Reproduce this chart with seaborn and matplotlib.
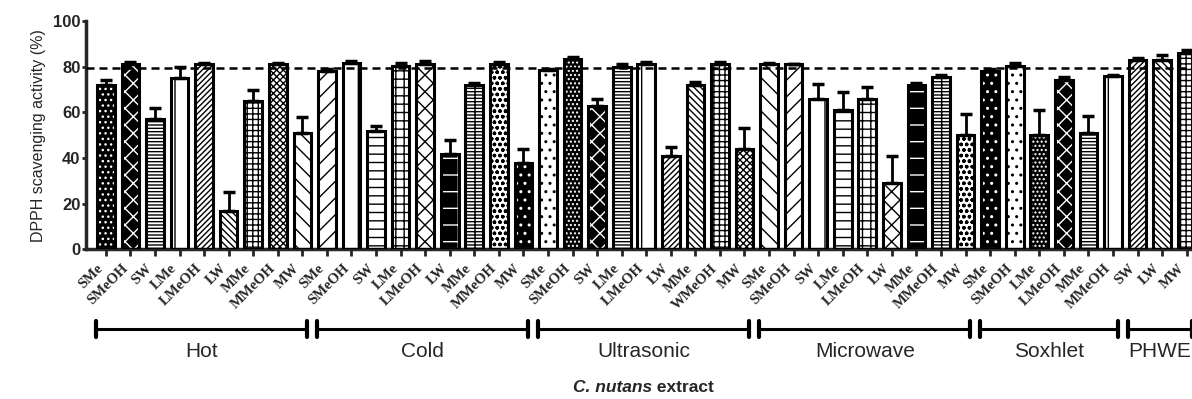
import matplotlib
matplotlib.use('Agg')
import matplotlib.pyplot as plt
import matplotlib.transforms as mtransforms
from matplotlib.patches import Rectangle
import numpy as np
import pandas as pd
import seaborn as sns

# extraction methods and the extracts tested under each
methods = ['Hot', 'Cold', 'Ultrasonic', 'Microwave', 'Soxhlet', 'PHWE']
hot_extracts = ['SMe', 'SMeOH', 'SW', 'LMe', 'LMeOH', 'LW', 'MMe', 'MMeOH', 'MW']
cold_extracts = ['SMe', 'SMeOH', 'SW', 'LMe', 'LMeOH', 'LW', 'MMe', 'MMeOH', 'MW']
ultra_extracts = ['SMe', 'SMeOH', 'SW', 'LMe', 'LMeOH', 'LW', 'MMe', 'WMeOH', 'MW']
micro_extracts = ['SMe', 'SMeOH', 'SW', 'LMe', 'LMeOH', 'LW', 'MMe', 'MMeOH', 'MW']
soxhlet_extracts = ['SMe', 'SMeOH', 'LMe', 'LMeOH', 'MMe', 'MMeOH']
phwe_extracts = ['SW', 'LW', 'MW']

# DPPH scavenging activity (%) and SD
hot_vals = [72, 81, 57, 75, 81, 17, 65, 81, 51]
hot_sd = [2, 1, 5, 5, 0.8, 8, 5, 0.8, 7]
cold_vals = [78, 81.5, 52, 80.5, 81, 42, 72, 81, 38]
cold_sd = [1, 1, 2, 1, 1.5, 6, 1, 1, 6]
ultra_vals = [78.5, 83.5, 63, 80, 81, 41, 72, 81, 44]
ultra_sd = [0.5, 0.8, 3, 1, 1, 4, 1.5, 1, 9]
micro_vals = [81, 81, 66, 61, 66, 29, 72, 75.5, 50]
micro_sd = [0.8, 0, 6.5, 8, 5, 12, 1, 1, 9.5]
soxhlet_vals = [78, 80.5, 50, 74, 51, 76]
soxhlet_sd = [1, 1, 11, 1.3, 7.5, 0.5]
phwe_vals = [83, 83, 86]
phwe_sd = [1, 2, 1.5]

reference_line = 79.5

groups = [hot_extracts, cold_extracts, ultra_extracts, micro_extracts,
          soxhlet_extracts, phwe_extracts]
vals = hot_vals + cold_vals + ultra_vals + micro_vals + soxhlet_vals + phwe_vals
sds = hot_sd + cold_sd + ultra_sd + micro_sd + soxhlet_sd + phwe_sd

rows = []
for m, ex in zip(methods, groups):
    for e in ex:
        rows.append({'method': m, 'extract': e, 'key': m + ' ' + e})
df = pd.DataFrame(rows)
df['value'] = vals
df['sd'] = sds

# fill patterns (hatch, face colour) per bar
hatches = ['...', 'xx', '-----', '|', '//////', '\\\\\\\\\\', '+++', 'xxxxx', '\\\\',
           '//', '|', '--', '++', 'xx', '+', '----+', 'ooo', '..',
           '..', '....', 'xx', '-----', '|', '//////', '\\\\\\\\\\', '+++', 'xxxxx',
           '\\\\', '//', '|', '--', '++', 'xx', '+', '----+', 'ooo',
           '..', '..', '....', 'xx', '-----', '|',
           '//////', '\\\\\\\\\\', '+++']
faces = ['k', 'k', 'w', 'w', 'w', 'w', 'w', 'w', 'w',
         'w', 'w', 'w', 'w', 'w', 'k', 'w', 'w', 'k',
         'w', 'k', 'k', 'w', 'w', 'w', 'w', 'w', 'w',
         'w', 'w', 'w', 'w', 'w', 'w', 'k', 'w', 'w',
         'k', 'w', 'k', 'k', 'w', 'w',
         'w', 'w', 'w']

sns.set_style('ticks')
plt.rcParams['font.family'] = ['Liberation Sans', 'DejaVu Sans']
plt.rcParams['hatch.linewidth'] = 1.0

fig = plt.figure(figsize=(11.92, 3.99), dpi=100)
ax = fig.add_axes([0.0721, 0.3747, 0.9337, 0.5727])

sns.barplot(data=df, x='key', y='value', color='white', edgecolor='black',
            linewidth=0, width=0.72, errorbar=None, ax=ax, zorder=2)

bars = list(ax.patches)
for p, h, fc in zip(bars, hatches, faces):
    p.set_facecolor(fc)
    p.set_edgecolor('white' if fc == 'k' else 'black')
    p.set_hatch(h)
    p.set_linewidth(0)
    ax.add_patch(Rectangle((p.get_x(), p.get_y()), p.get_width(), p.get_height(),
                           fill=False, edgecolor='black', linewidth=2.2, zorder=3))

x = np.arange(len(df))
ax.errorbar(x, df['value'], yerr=[np.zeros(len(df)), df['sd']], fmt='none',
            ecolor='black', elinewidth=2, capsize=4, capthick=2.5, zorder=4)

ax.axhline(reference_line, color='black', lw=1.8, ls=(0, (3.2, 2.0)), zorder=5)

ax.set_xlim(-0.81, 44.5)
ax.set_ylim(0, 100)
ax.set_yticks([0, 20, 40, 60, 80, 100])
ax.set_xticks(x)
ax.set_xticklabels(df['extract'], rotation=45, ha='right', va='top',
                   rotation_mode='default', fontfamily='Liberation Serif',
                   fontweight='bold', fontsize=10.5)
for t in ax.get_yticklabels():
    t.set_fontweight('bold')
    t.set_fontsize(12)
ax.tick_params(axis='y', length=3, width=2, pad=1)
ax.tick_params(axis='x', length=5, width=2, pad=4)
ax.set_xlabel('')
ax.set_ylabel('DPPH scavenging activity (%)', fontsize=11.5, labelpad=5)
sns.despine(ax=ax)
ax.spines['left'].set_linewidth(2.5)
ax.spines['bottom'].set_linewidth(2.5)

# brackets for the extraction methods
trans = mtransforms.blended_transform_factory(ax.transData, fig.transFigure)
start = 0
for m, ex in zip(methods, groups):
    x0 = start - 0.4
    x1 = start + len(ex) - 1 + 0.2
    ax.plot([x0, x1], [0.175, 0.175], color='black', lw=2.2, transform=trans,
            clip_on=False)
    for xe in (x0, x1):
        ax.plot([xe, xe], [0.155, 0.195], color='black', lw=3, transform=trans,
                clip_on=False, solid_capstyle='round')
    ax.text((x0 + x1) / 2, 0.118, m, transform=trans, ha='center', va='center',
            fontsize=15)
    start += len(ex)

fig.text(0.547, 0.03, 'C. nutans', ha='right', va='center', fontsize=12.5,
         fontweight='bold', fontstyle='italic')
fig.text(0.547, 0.03, ' extract', ha='left', va='center', fontsize=12.5,
         fontweight='bold')

fig.savefig('out.png', dpi=100)
